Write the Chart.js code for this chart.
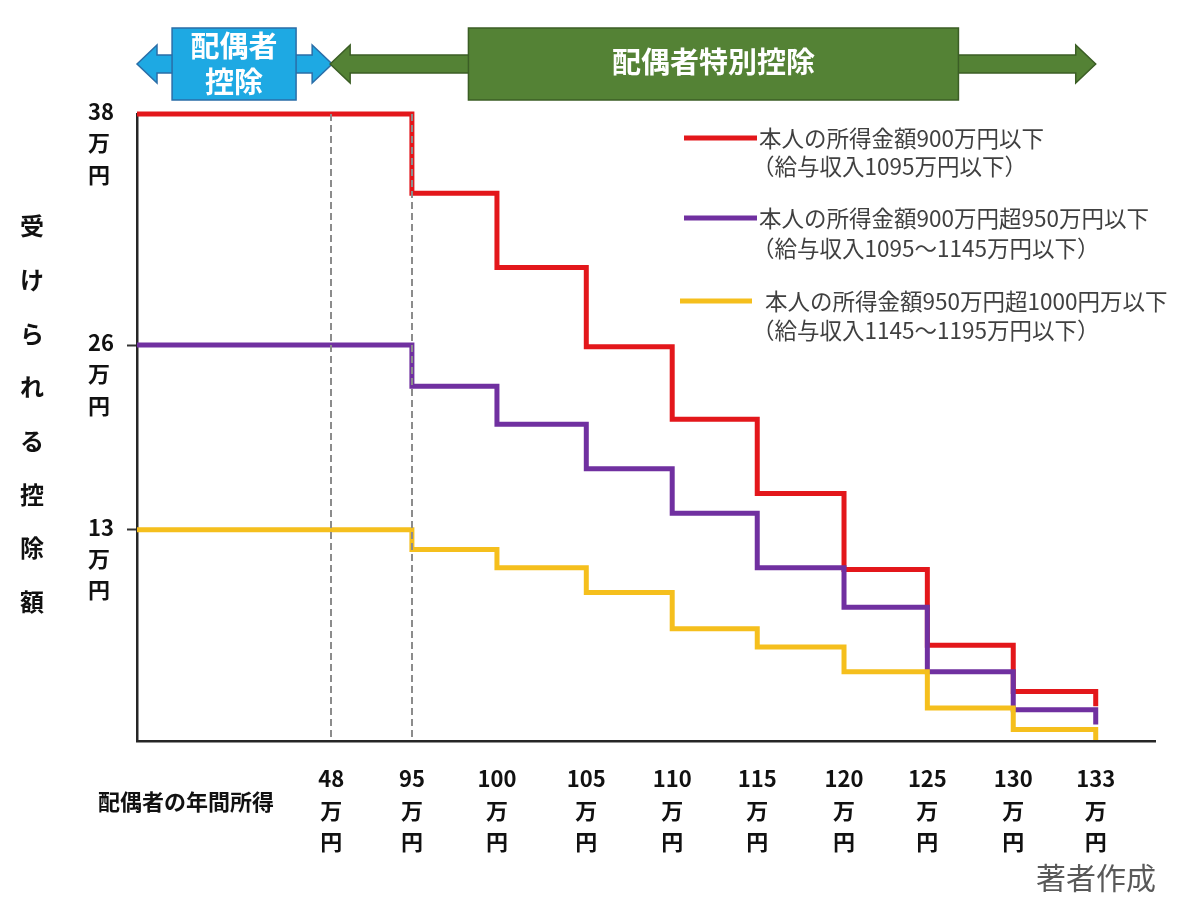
<!DOCTYPE html>
<html lang="ja">
<head>
<meta charset="utf-8">
<title>配偶者控除・配偶者特別控除</title>
<script src="https://cdn.jsdelivr.net/npm/chart.js@4.4.1/dist/chart.umd.min.js"></script>
<style>
  html, body { margin: 0; padding: 0; background: #fff; }
</style>
</head>
<body>
<canvas id="deductionChart" width="1200" height="900"></canvas>
<script>
// 配偶者の年間所得（横軸の目盛り）
const incomeLabels = ['48', '95', '100', '105', '110', '115', '120', '125', '130', '133'];
// 図の上での目盛りの位置（横軸は等間隔ではないので区分単位で読む）
const incomeSlots = [2.26, 3.2, 4.19, 5.23, 6.23, 7.22, 8.23, 9.2, 10.2, 11.16];

// 受けられる控除額（図から読んだ段の高さ）
const redValues = [38, 33.2, 28.7, 23.9, 19.5, 15.0, 10.4, 5.8, 3.0, 2.1];
const purpleValues = [24.0, 21.5, 19.2, 16.5, 13.8, 10.5, 8.1, 4.2, 1.9, 1.0];
const yellowValues = [12.8, 11.6, 10.5, 9.0, 6.8, 5.7, 4.2, 2.0, 0.7, 0];

// 縦軸の目盛り（図の上の高さに置く）
const yTickValues = [12.8, 24.0, 38];
const yTickLabels = ['13', '26', '38'];

const legendLabels = [
  ['本人の所得金額900万円以下', '（給与収入1095万円以下）'],
  ['本人の所得金額900万円超950万円以下', '（給与収入1095〜1145万円以下）'],
  ['本人の所得金額950万円超1000円万以下', '（給与収入1145〜1195万円以下）']
];
const seriesColors = ['#e3171b', '#7030a0', '#f5bf1d'];

const FONT = '"Noto Sans CJK JP", "Noto Sans", sans-serif';

// 段の始まり: 原点、95万円、100万円 ...
const stepX = [0].concat(incomeSlots.slice(1));
function toSteps(values) {
  return values.map((v, i) => ({ x: stepX[i], y: v }));
}

function drawArrow(ctx, x1, x2, y, fill, stroke) {
  const shaft = 18, head = 38, headLen = 20;
  ctx.beginPath();
  ctx.moveTo(x1, y);
  ctx.lineTo(x1 + headLen, y - head / 2);
  ctx.lineTo(x1 + headLen, y - shaft / 2);
  ctx.lineTo(x2 - headLen, y - shaft / 2);
  ctx.lineTo(x2 - headLen, y - head / 2);
  ctx.lineTo(x2, y);
  ctx.lineTo(x2 - headLen, y + head / 2);
  ctx.lineTo(x2 - headLen, y + shaft / 2);
  ctx.lineTo(x1 + headLen, y + shaft / 2);
  ctx.lineTo(x1 + headLen, y + head / 2);
  ctx.closePath();
  ctx.fillStyle = fill;
  ctx.fill();
  ctx.lineWidth = 1.5;
  ctx.strokeStyle = stroke;
  ctx.stroke();
}

function drawBox(ctx, cx, w, fill, stroke) {
  ctx.fillStyle = fill;
  ctx.fillRect(cx - w / 2, 28, w, 72);
  ctx.lineWidth = 1.5;
  ctx.strokeStyle = stroke;
  ctx.strokeRect(cx - w / 2, 28, w, 72);
}

const decorPlugin = {
  id: 'decor',
  afterDraw(chart) {
    const ctx = chart.ctx;
    const xs = chart.scales.x;
    const x0 = xs.getPixelForValue(0);
    const x48 = xs.getPixelForValue(incomeSlots[0]);
    const xEnd = xs.getPixelForValue(incomeSlots[incomeSlots.length - 1]);
    ctx.save();

    // 上の矢印
    drawArrow(ctx, x0, x48 + 1, 64, '#1ea9e3', '#2a6ea8');
    drawArrow(ctx, x48 - 1, xEnd, 64, '#548235', '#3b5e25');
    const blueCx = (x0 + x48) / 2;
    const greenCx = (x48 + xEnd) / 2;
    drawBox(ctx, blueCx, 124, '#1ea9e3', '#2a6ea8');
    drawBox(ctx, greenCx, 490, '#548235', '#3b5e25');
    ctx.fillStyle = '#ffffff';
    ctx.textAlign = 'center';
    ctx.textBaseline = 'middle';
    ctx.font = 'bold 29px ' + FONT;
    ctx.fillText('配偶者', blueCx, 46);
    ctx.fillText('控除', blueCx, 82);
    ctx.fillText('配偶者特別控除', greenCx, 62);

    // 凡例
    const rows = [[138, 166], [218, 248], [301, 330]];
    const sample = [[684, 757, 759], [684, 757, 759], [680, 752, 765]];
    legendLabels.forEach((lines, i) => {
      ctx.strokeStyle = seriesColors[i];
      ctx.lineWidth = 5;
      ctx.beginPath();
      ctx.moveTo(sample[i][0], rows[i][0]);
      ctx.lineTo(sample[i][1], rows[i][0]);
      ctx.stroke();
      ctx.fillStyle = '#404040';
      ctx.textAlign = 'left';
      ctx.font = '22.5px ' + FONT;
      ctx.fillText(lines[0], sample[i][2], rows[i][0]);
      ctx.fillText(lines[1], 752, rows[i][1]);
    });

    // 縦軸タイトル（縦書き）
    ctx.fillStyle = '#111111';
    ctx.textAlign = 'center';
    ctx.font = 'bold 24px ' + FONT;
    '受けられる控除額'.split('').forEach((ch, i) => {
      ctx.fillText(ch, 32, 226 + i * 53.7);
    });

    // 横軸タイトル
    ctx.font = 'bold 22px ' + FONT;
    ctx.fillText('配偶者の年間所得', 186, 802);

    // 出典
    ctx.fillStyle = '#595959';
    ctx.textAlign = 'right';
    ctx.font = '30px ' + FONT;
    ctx.fillText('著者作成', 1156, 878);
    ctx.restore();
  }
};

const ctx = document.getElementById('deductionChart').getContext('2d');
const deductionChart = new Chart(ctx, {
  type: 'line',
  data: {
    datasets: [
      { label: legendLabels[0][0], data: toSteps(redValues), borderColor: seriesColors[0], order: 3 },
      { label: legendLabels[1][0], data: toSteps(purpleValues), borderColor: seriesColors[1], order: 2 },
      { label: legendLabels[2][0], data: toSteps(yellowValues), borderColor: seriesColors[2], order: 1 }
    ]
  },
  options: {
    responsive: false,
    animation: false,
    layout: { padding: { left: 88, top: 114, right: 45, bottom: 39 } },
    elements: {
      line: { borderWidth: 5, stepped: true, fill: false, borderJoinStyle: 'miter', borderCapStyle: 'butt' },
      point: { radius: 0, hoverRadius: 0 }
    },
    datasets: { line: { clip: 8 } },
    plugins: {
      legend: { display: false },
      tooltip: { enabled: false }
    },
    scales: {
      x: {
        type: 'linear',
        min: 0,
        max: 11.85,
        afterBuildTicks: s => { s.ticks = incomeSlots.map(v => ({ value: v })); },
        afterFit: s => { s.height = 120; },
        ticks: {
          callback: (v, i) => [incomeLabels[i], '万', '円'],
          autoSkip: false,
          maxRotation: 0,
          padding: 22,
          color: '#111111',
          font: { family: FONT, size: 22, weight: 'bold', lineHeight: 1.43 }
        },
        grid: {
          drawTicks: false,
          lineWidth: 2,
          color: c => (c.index < 2 ? '#8c8c8c' : 'rgba(0,0,0,0)'),
          z: 1
        },
        border: { color: '#262626', width: 2.5, dash: [7, 4], z: 1 }
      },
      y: {
        type: 'linear',
        min: 0,
        max: 38,
        afterBuildTicks: s => { s.ticks = yTickValues.map(v => ({ value: v })); },
        afterFit: s => { s.width = 49; },
        ticks: {
          callback: (v, i) => [yTickLabels[i], '万', '円'],
          crossAlign: 'far',
          labelOffset: 29,
          color: '#111111',
          font: { family: FONT, size: 22, weight: 'bold', lineHeight: 1.42 }
        },
        grid: {
          drawOnChartArea: false,
          tickLength: 10,
          tickWidth: 2,
          tickColor: c => (c.index === 2 ? 'rgba(0,0,0,0)' : '#333333'),
          color: '#333333'
        },
        border: { color: '#262626', width: 2.5 }
      }
    }
  },
  plugins: [decorPlugin]
});
</script>
</body>
</html>
